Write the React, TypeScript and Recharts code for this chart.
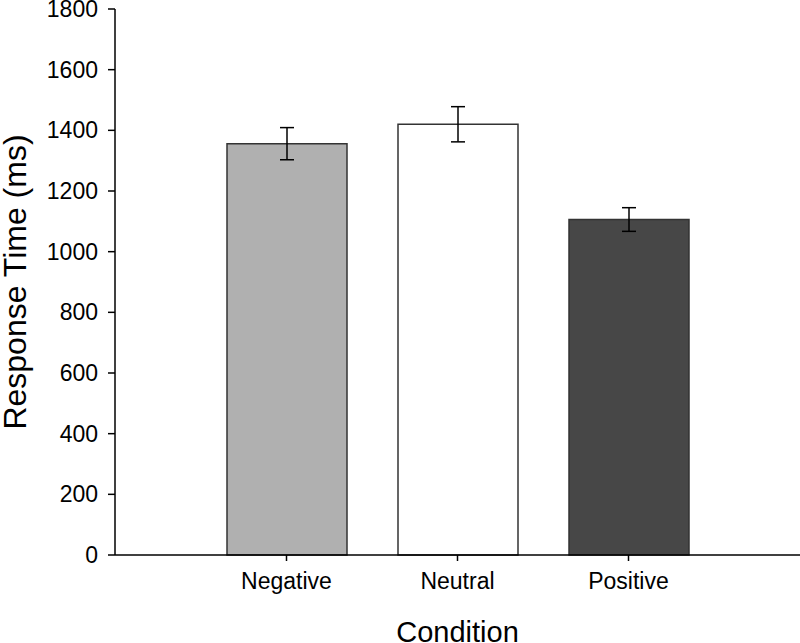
import { BarChart, Bar, XAxis, YAxis, ErrorBar, Cell, Label } from "recharts";

const conditions = ["Negative", "Neutral", "Positive"];
const responseTimes = [1356, 1420, 1106];
const standardErrors = [53, 58, 39];
const barColors = ["#b0b0b0", "#ffffff", "#474747"];
const yTicks = [0, 200, 400, 600, 800, 1000, 1200, 1400, 1600, 1800];

const data = conditions.map((name, i) => ({
  name,
  rt: responseTimes[i],
  se: standardErrors[i],
}));

const font = "'Liberation Sans', Arial, sans-serif";

export default function App() {
  return (
    <div style={{ position: "absolute", left: 0, top: 0, background: "#fff", fontFamily: font }}>
      <BarChart
        width={800}
        height={643}
        data={data}
        margin={{ top: 9, right: 0, bottom: 0, left: 0 }}
      >
        <XAxis
          dataKey="name"
          padding={{ left: 86, right: 86 }}
          height={88}
          stroke="#000"
          strokeWidth={1.5}
          tickSize={6}
          tickMargin={12}
          tick={{ fill: "#000", fontSize: 23, fontFamily: font }}
        >
          <Label
            value="Condition"
            position="insideBottom"
            offset={1}
            style={{ fill: "#000", fontSize: 29, fontFamily: font }}
          />
        </XAxis>
        <YAxis
          domain={[0, 1800]}
          ticks={yTicks}
          width={115}
          stroke="#000"
          strokeWidth={1.5}
          tickSize={7}
          tickMargin={10}
          interval={0}
          tick={{ fill: "#000", fontSize: 23, fontFamily: font }}
        >
          <Label
            value="Response Time (ms)"
            angle={-90}
            position="insideLeft"
            offset={15}
            style={{ fill: "#000", fontSize: 32, fontFamily: font, textAnchor: "middle" }}
          />
        </YAxis>
        <Bar dataKey="rt" barSize={120} stroke="#333" strokeWidth={1.5} isAnimationActive={false}>
          {data.map((d, i) => (
            <Cell key={d.name} fill={barColors[i]} />
          ))}
          <ErrorBar dataKey="se" width={7} stroke="#000" strokeWidth={1.5} />
        </Bar>
      </BarChart>
    </div>
  );
}
